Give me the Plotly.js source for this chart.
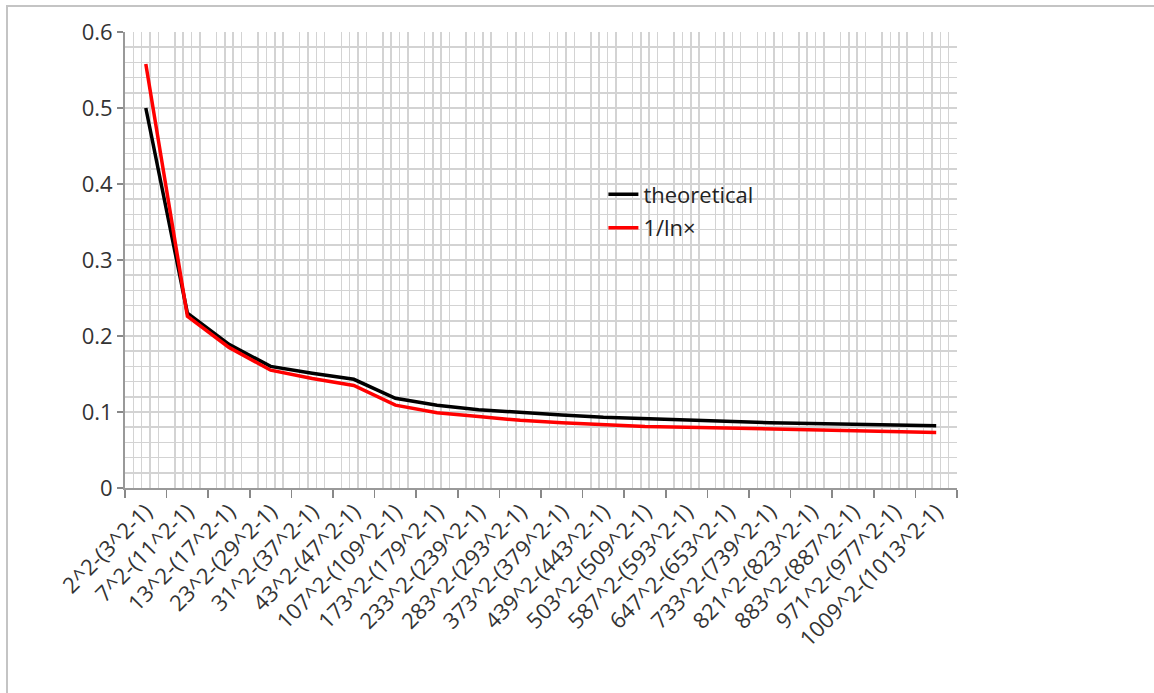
<!DOCTYPE html>
<html>
<head>
<meta charset="utf-8">
<script src="https://cdn.plot.ly/plotly-3.0.1.min.js"></script>
<style>
  html, body { margin: 0; padding: 0; background: #fff; }
  #chart { width: 1154px; height: 693px; position: relative; }
  #frame { position: absolute; left: 6px; top: 5px; width: 1160px; height: 700px;
           border-left: 2px solid #c4c4c4; border-top: 2px solid #c4c4c4; pointer-events: none; }
</style>
</head>
<body>
<div id="chart"></div>
<div id="frame"></div>
<script>
const categories = [
  "2^2-(3^2-1)", "7^2-(11^2-1)", "13^2-(17^2-1)", "23^2-(29^2-1)", "31^2-(37^2-1)",
  "43^2-(47^2-1)", "107^2-(109^2-1)", "173^2-(179^2-1)", "233^2-(239^2-1)", "283^2-(293^2-1)",
  "373^2-(379^2-1)", "439^2-(443^2-1)", "503^2-(509^2-1)", "587^2-(593^2-1)", "647^2-(653^2-1)",
  "733^2-(739^2-1)", "821^2-(823^2-1)", "883^2-(887^2-1)", "971^2-(977^2-1)", "1009^2-(1013^2-1)"
];
const theoretical = [0.500, 0.230, 0.189, 0.160, 0.151, 0.143, 0.118, 0.109, 0.103, 0.099,
  0.096, 0.093, 0.091, 0.089, 0.088, 0.086, 0.085, 0.084, 0.083, 0.082];
const invLn = [0.558, 0.226, 0.185, 0.155, 0.144, 0.135, 0.109, 0.099, 0.094, 0.089,
  0.086, 0.083, 0.081, 0.080, 0.079, 0.077, 0.076, 0.075, 0.074, 0.073];
const seriesNames = ["theoretical", "1/ln\u00d7"];

// vertical minor grid: fifths of each category, skipping interior boundaries
const gridVals = [];
for (let i = 0; i < categories.length; i++) {
  for (let k = 1; k <= 4; k++) gridVals.push(i - 0.5 + k * 0.2);
}
gridVals.push(categories.length - 0.5);

const gridColor = "#d3d3d3";
const font = "Open Sans, Noto Sans, sans-serif";

const traces = [
  { type: "scatter", mode: "lines", x: categories, y: theoretical, name: seriesNames[0],
    line: { color: "#000000", width: 3.5 }, legendgroup: "a", xaxis: "x", yaxis: "y" },
  { type: "scatter", mode: "lines", x: categories, y: invLn, name: seriesNames[1],
    line: { color: "#ff0000", width: 3.5 }, legendgroup: "b", xaxis: "x", yaxis: "y" },
  // carrier for the grid-only overlay axis (draws nothing)
  { type: "scatter", mode: "lines", x: [gridVals[0]], y: [null], xaxis: "x2", yaxis: "y",
    showlegend: false, hoverinfo: "skip" }
];

const layout = {
  width: 1154, height: 693,
  margin: { l: 125, r: 197, t: 32, b: 205 },
  paper_bgcolor: "#ffffff", plot_bgcolor: "#ffffff",
  font: { family: font, color: "#333333", size: 15 },
  showlegend: true,
  legend: { x: 0.575, y: 0.69, xanchor: "left", yanchor: "top",
            bgcolor: "rgba(0,0,0,0)", font: { size: 22, color: "#222" },
            tracegroupgap: 2, itemwidth: 30, traceorder: "grouped" },
  xaxis: {
    type: "category", range: [-0.5, categories.length - 0.5],
    tickson: "boundaries", ticks: "outside", ticklen: 8, tickwidth: 1.5, tickcolor: "#888",
    showgrid: false, zeroline: false, showline: true, linecolor: "#999", linewidth: 2,
    tickangle: -45, tickfont: { size: 22, color: "#333" }
  },
  xaxis2: {
    overlaying: "x", anchor: "y", type: "linear",
    range: [-0.5, categories.length - 0.5],
    tickmode: "array", tickvals: gridVals, showticklabels: false, ticks: "",
    showgrid: true, gridcolor: gridColor, gridwidth: 1.5, zeroline: false, showline: false
  },
  yaxis: {
    range: [0, 0.6], dtick: 0.1, tickformat: ".1~f",
    ticks: "outside", ticklen: 6, tickwidth: 1.5, tickcolor: "#888",
    showline: true, linecolor: "#999", linewidth: 2, zeroline: false,
    showgrid: true, gridcolor: gridColor, gridwidth: 1.5,
    minor: { dtick: 0.02, showgrid: true, gridcolor: gridColor, gridwidth: 1.5, ticks: "" },
    tickfont: { size: 22, color: "#333" }
  }
};

Plotly.newPlot("chart", traces, layout, { displayModeBar: false, staticPlot: true });
</script>
</body>
</html>
